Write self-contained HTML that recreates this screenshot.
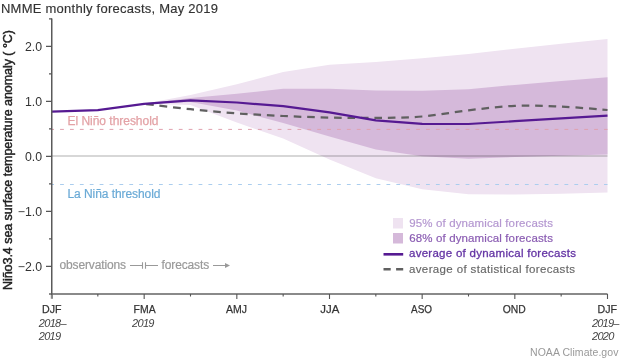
<!DOCTYPE html>
<html><head><meta charset="utf-8"><style>
html,body{margin:0;padding:0;background:#fff;width:620px;height:361px;overflow:hidden}
svg{display:block;font-family:'Liberation Sans',sans-serif;will-change:transform}
text{font-family:'Liberation Sans',sans-serif}
</style></head><body>
<svg width="620" height="361" viewBox="0 0 620 361">
<path d="M144.17,103.80 L190.50,95.00 L236.83,84.30 L283.16,71.90 L329.50,64.70 L375.83,61.90 L422.16,58.30 L468.50,54.10 L514.83,48.70 L561.16,43.80 L607.50,38.90 L607.50,192.50 L561.16,193.80 L514.83,194.60 L468.50,194.20 L422.16,189.20 L375.83,178.30 L329.50,159.50 L283.16,138.60 L236.83,122.50 L190.50,105.00 L144.17,103.80 Z" fill="#efe3f1"/>
<path d="M144.17,103.80 L190.50,98.00 L236.83,93.80 L283.16,88.80 L329.50,88.80 L375.83,90.40 L422.16,90.80 L468.50,89.30 L514.83,84.90 L561.16,81.10 L607.50,77.20 L607.50,154.40 L561.16,155.70 L514.83,157.00 L468.50,158.80 L422.16,156.20 L375.83,149.40 L329.50,136.50 L283.16,123.00 L236.83,110.50 L190.50,102.00 L144.17,103.80 Z" fill="#d5b9da"/>
<line x1="52" y1="156" x2="607.5" y2="156" stroke="#000" stroke-opacity="0.155" stroke-width="2"/>
<line x1="52" y1="129.4" x2="607.5" y2="129.4" stroke="#e0a0ae" stroke-width="1" stroke-dasharray="3.8 6.09" stroke-dashoffset="1.8"/>
<line x1="52" y1="184.5" x2="607.5" y2="184.5" stroke="#aacdee" stroke-width="1" stroke-dasharray="3.8 6.09" stroke-dashoffset="1.8"/>
<path d="M144.17,103.80 C151.89,104.70 175.05,107.62 190.50,109.20 C205.94,110.78 221.39,112.17 236.83,113.30 C252.28,114.43 267.72,115.28 283.16,116.00 C298.61,116.72 314.05,117.28 329.50,117.60 C344.94,117.92 360.39,118.08 375.83,117.90 C391.28,117.72 406.72,117.77 422.16,116.50 C437.61,115.23 453.05,112.07 468.50,110.30 C483.94,108.53 499.39,106.52 514.83,105.90 C530.27,105.28 545.72,105.92 561.16,106.60 C576.61,107.28 599.77,109.43 607.50,110.00" fill="none" stroke="#606060" stroke-width="2.25" stroke-dasharray="7.6 5.85" stroke-dashoffset="-2.2"/>
<path d="M51.50,111.70 L97.83,110.10 L144.17,103.80 L190.50,100.30 L236.83,102.50 L283.16,106.20 L329.50,112.40 L375.83,120.30 L422.16,123.90 L468.50,124.00 L514.83,121.20 L561.16,118.40 L607.50,115.60" fill="none" stroke="#561a92" stroke-width="2.2" stroke-linejoin="round"/>
<path d="M49,294 H607.5" fill="none" stroke="#8a8a8a" stroke-width="2"/>
<path d="M51.75,18.5 V295" fill="none" stroke="#5a5a5a" stroke-width="1.5"/>
<path d="M51.9,295 V298.8" fill="none" stroke="#8a8a8a" stroke-width="2.2"/>
<path d="M46,46.4 H52 M46,101.4 H52 M46,156.4 H52 M46,211.4 H52 M46,266.4 H52 M49,18.9 H52 M49,73.9 H52 M49,128.9 H52 M49,183.9 H52 M49,238.9 H52 M97.83,294 V296.5 M144.17,294 V299 M190.50,294 V296.5 M236.83,294 V299 M283.16,294 V296.5 M329.50,294 V299 M375.83,294 V296.5 M422.16,294 V299 M468.50,294 V296.5 M514.83,294 V299 M561.16,294 V296.5 M607.50,294 V299" fill="none" stroke="#555555" stroke-width="1.1"/>
<text x="1" y="13" font-size="13" fill="#333333" text-anchor="start" font-weight="normal" font-style="normal" textLength="217" lengthAdjust="spacing" stroke="#333" stroke-width="0.15">NMME monthly forecasts, May 2019</text>
<g transform="translate(12.3,160) rotate(-90)"><text x="-130" y="0" font-size="12.5" fill="#222" text-anchor="start" font-weight="normal" font-style="normal" textLength="260" lengthAdjust="spacing" stroke="#222" stroke-width="0.45">Niño3.4 sea surface temperature anomaly ( °C)</text></g>
<text x="42" y="50.5" font-size="12.3" fill="#333333" text-anchor="end" font-weight="normal" font-style="normal">2.0</text>
<text x="42" y="105.5" font-size="12.3" fill="#333333" text-anchor="end" font-weight="normal" font-style="normal">1.0</text>
<text x="42" y="160.5" font-size="12.3" fill="#333333" text-anchor="end" font-weight="normal" font-style="normal">0.0</text>
<text x="42" y="215.5" font-size="12.3" fill="#333333" text-anchor="end" font-weight="normal" font-style="normal">−1.0</text>
<text x="42" y="270.5" font-size="12.3" fill="#333333" text-anchor="end" font-weight="normal" font-style="normal">−2.0</text>
<text x="67.5" y="125" font-size="12" fill="#e3a2a6" text-anchor="start" font-weight="normal" font-style="normal" textLength="91" lengthAdjust="spacing" stroke="#e3a2a6" stroke-width="0.25">El Niño threshold</text>
<text x="67.5" y="197.5" font-size="12" fill="#6aaad6" text-anchor="start" font-weight="normal" font-style="normal" textLength="93" lengthAdjust="spacing" stroke="#6aaad6" stroke-width="0.2">La Niña threshold</text>
<text x="59.5" y="268.7" font-size="12" fill="#999999" text-anchor="start" font-weight="normal" font-style="normal" textLength="66.5" lengthAdjust="spacing" stroke="#999" stroke-width="0.2">observations</text>
<text x="161.5" y="268.7" font-size="12" fill="#999999" text-anchor="start" font-weight="normal" font-style="normal" textLength="47.7" lengthAdjust="spacing" stroke="#999" stroke-width="0.2">forecasts</text>
<path d="M130,265.5 H142.5 M145.5,265.5 H158 M142.5,262.3 V268.7 M145.5,262.3 V268.7 M213,265.5 H227" stroke="#999999" stroke-width="1.1" fill="none"/>
<path d="M225,263 L230,265.5 L225,268 Z" fill="#999999"/>
<rect x="393" y="218" width="10" height="10.5" fill="#efe3f1"/>
<rect x="393" y="233" width="10" height="10.5" fill="#d5b9da"/>
<line x1="383.5" y1="254.3" x2="403.2" y2="254.3" stroke="#561a92" stroke-width="2.6"/>
<line x1="383.5" y1="269.3" x2="403.2" y2="269.3" stroke="#606060" stroke-width="2.6" stroke-dasharray="7.2 5.4"/>
<text x="409.3" y="226.8" font-size="11.5" fill="#b497d0" text-anchor="start" font-weight="normal" font-style="normal" textLength="143.6" lengthAdjust="spacing" stroke="#b497d0" stroke-width="0.2">95% of dynamical forecasts</text>
<text x="409.3" y="242.2" font-size="11.5" fill="#8a5cb2" text-anchor="start" font-weight="normal" font-style="normal" textLength="143.6" lengthAdjust="spacing" stroke="#8a5cb2" stroke-width="0.2">68% of dynamical forecasts</text>
<text x="409" y="257" font-size="11.5" fill="#6434a4" text-anchor="start" font-weight="normal" font-style="normal" textLength="167" lengthAdjust="spacing" stroke="#6434a4" stroke-width="0.3">average of dynamical forecasts</text>
<text x="409" y="272.5" font-size="11.5" fill="#666666" text-anchor="start" font-weight="normal" font-style="normal" textLength="166" lengthAdjust="spacing" stroke="#666" stroke-width="0.15">average of statistical forecasts</text>
<text x="42.1" y="312.6" font-size="11.8" fill="#333333" text-anchor="start" font-weight="normal" font-style="normal" textLength="19.5" lengthAdjust="spacingAndGlyphs" stroke="#333" stroke-width="0.25">DJF</text>
<text x="133.6" y="312.6" font-size="11.8" fill="#333333" text-anchor="start" font-weight="normal" font-style="normal" textLength="22" lengthAdjust="spacingAndGlyphs" stroke="#333" stroke-width="0.25">FMA</text>
<text x="226.0" y="312.6" font-size="11.8" fill="#333333" text-anchor="start" font-weight="normal" font-style="normal" textLength="21" lengthAdjust="spacingAndGlyphs" stroke="#333" stroke-width="0.25">AMJ</text>
<text x="320.3" y="312.6" font-size="11.8" fill="#333333" text-anchor="start" font-weight="normal" font-style="normal" textLength="19" lengthAdjust="spacingAndGlyphs" stroke="#333" stroke-width="0.25">JJA</text>
<text x="411.0" y="312.6" font-size="11.8" fill="#333333" text-anchor="start" font-weight="normal" font-style="normal" textLength="21" lengthAdjust="spacingAndGlyphs" stroke="#333" stroke-width="0.25">ASO</text>
<text x="502.7" y="312.6" font-size="11.8" fill="#333333" text-anchor="start" font-weight="normal" font-style="normal" textLength="23" lengthAdjust="spacingAndGlyphs" stroke="#333" stroke-width="0.25">OND</text>
<text x="597.5" y="312.6" font-size="11.8" fill="#333333" text-anchor="start" font-weight="normal" font-style="normal" textLength="19.5" lengthAdjust="spacingAndGlyphs" stroke="#333" stroke-width="0.25">DJF</text>
<text x="38.7" y="326.8" font-size="11" fill="#444" text-anchor="start" font-weight="normal" font-style="italic" textLength="28" lengthAdjust="spacing">2018–</text>
<text x="38.7" y="339.7" font-size="11" fill="#444" text-anchor="start" font-weight="normal" font-style="italic" textLength="22.5" lengthAdjust="spacing">2019</text>
<text x="132.1" y="326.6" font-size="11" fill="#444" text-anchor="start" font-weight="normal" font-style="italic" textLength="22.3" lengthAdjust="spacing">2019</text>
<text x="592" y="326.8" font-size="11" fill="#444" text-anchor="start" font-weight="normal" font-style="italic" textLength="27.3" lengthAdjust="spacing">2019–</text>
<text x="592" y="339.7" font-size="11" fill="#444" text-anchor="start" font-weight="normal" font-style="italic" textLength="22.3" lengthAdjust="spacing">2020</text>
<text x="530" y="356" font-size="10.5" fill="#999" text-anchor="start" font-weight="normal" font-style="normal" textLength="88.4" lengthAdjust="spacing">NOAA Climate.gov</text>
</svg>
</body></html>
